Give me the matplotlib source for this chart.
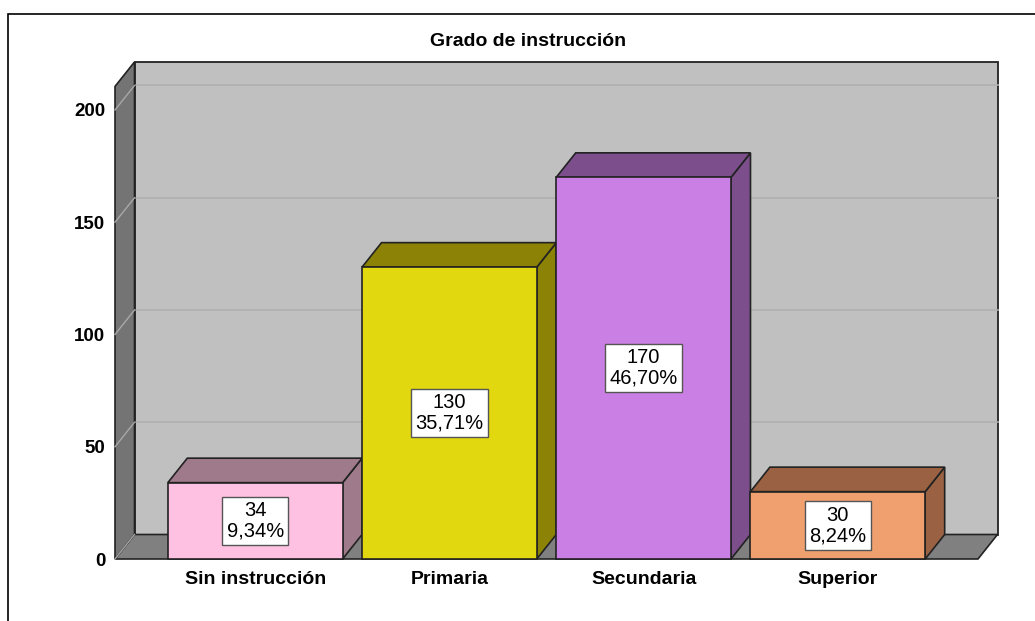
import matplotlib
matplotlib.use("Agg")
import matplotlib.pyplot as plt
from matplotlib.patches import Polygon, Rectangle

plt.rcParams['font.family'] = ['Liberation Sans', 'DejaVu Sans']

# ---- data ----
title = "Grado de instrucción"
categories = ["Sin instrucción", "Primaria", "Secundaria", "Superior"]
counts = [34, 130, 170, 30]
front_colors = ["#fec1e1", "#e2d80f", "#c97fe4", "#f0a06e"]
shade_colors = ["#9e7a8a", "#8c8306", "#7c4f8c", "#9a6242"]
yticks = [0, 50, 100, 150, 200]

W, H = 1035, 621
fig = plt.figure(figsize=(W / 100, H / 100), dpi=100)

# frame around figure
fig.patches.append(Rectangle((8 / W, -0.1), 1.2, 1 - 14 / H + 0.1, transform=fig.transFigure,
                             fill=False, edgecolor="black", linewidth=1.2))

# front plane geometry (pixels)
left_px, right_px, base_px = 115, 978, 559
ymax = 210.5
px_per_unit = 2.245
top_px = base_px - ymax * px_per_unit
ax = fig.add_axes([left_px / W, 1 - base_px / H, (right_px - left_px) / W, (base_px - top_px) / H])
xmin, xmax = -0.722, len(categories) - 1 + 0.722
ax.set_xlim(xmin, xmax)
ax.set_ylim(0, ymax)
for s in ax.spines.values():
    s.set_visible(False)
ax.patch.set_visible(False)

# depth offsets in data units
ddx = 19.5 * (xmax - xmin) / (right_px - left_px)
ddy = 24.5 / px_per_unit

edge = "#222222"
# back wall
ax.add_patch(Polygon([(xmin + ddx, ddy), (xmax + ddx, ddy), (xmax + ddx, ymax + ddy), (xmin + ddx, ymax + ddy)],
                     closed=True, facecolor="#c0c0c0", edgecolor=edge, linewidth=1.3, clip_on=False, zorder=1))
# gridlines on back wall
for t in yticks[1:]:
    ax.plot([xmin + ddx, xmax + ddx], [t + ddy, t + ddy], color="#b0b0b0", linewidth=1.2, clip_on=False, zorder=1.5)
# floor
ax.add_patch(Polygon([(xmin, 0), (xmax, 0), (xmax + ddx, ddy), (xmin + ddx, ddy)],
                     closed=True, facecolor="#808080", edgecolor=edge, linewidth=1.2, clip_on=False, zorder=2))
# left wall
ax.add_patch(Polygon([(xmin, 0), (xmin + ddx, ddy), (xmin + ddx, ymax + ddy), (xmin, ymax)],
                     closed=True, facecolor="#747474", edgecolor=edge, linewidth=1.2, clip_on=False, zorder=2))
for t in yticks:
    ax.plot([xmin, xmin + ddx], [t, t + ddy], color="#a8a8a8", linewidth=1.0, clip_on=False, zorder=2.5)

# bars
bw = 0.9
total = sum(counts)
for i, (v, fc, sc) in enumerate(zip(counts, front_colors, shade_colors)):
    x0, x1 = i - bw / 2, i + bw / 2
    z = 3 + i
    ax.add_patch(Polygon([(x1, 0), (x1 + ddx, ddy), (x1 + ddx, v + ddy), (x1, v)], closed=True,
                         facecolor=sc, edgecolor=edge, linewidth=1.2, clip_on=False, zorder=z))
    ax.add_patch(Polygon([(x0, v), (x1, v), (x1 + ddx, v + ddy), (x0 + ddx, v + ddy)], closed=True,
                         facecolor=sc, edgecolor=edge, linewidth=1.2, clip_on=False, zorder=z))
    ax.bar(i, v, width=bw, color=fc, edgecolor=edge, linewidth=1.2, zorder=z + 0.1, clip_on=False)
    pct = f"{v / total * 100:.2f}".replace(".", ",")
    ax.text(i, v / 2, f"{v}\n{pct}%", ha="center", va="center", fontsize=14.5, linespacing=1.1,
            zorder=10, bbox=dict(boxstyle="square,pad=0.22", facecolor="white", edgecolor="#555555", linewidth=1))

ax.set_xticks(range(len(categories)))
ax.set_xticklabels(categories, fontsize=14, fontweight="bold")
ax.set_yticks(yticks)
ax.set_yticklabels([str(t) for t in yticks], fontsize=13.5, fontweight="bold")
ax.tick_params(axis="both", length=0)
ax.tick_params(axis="y", pad=7)
ax.tick_params(axis="x", pad=9)

fig.text(528 / W, 1 - 41 / H, title, ha="center", va="center", fontsize=14, fontweight="bold")

fig.savefig("out.png", dpi=100)
